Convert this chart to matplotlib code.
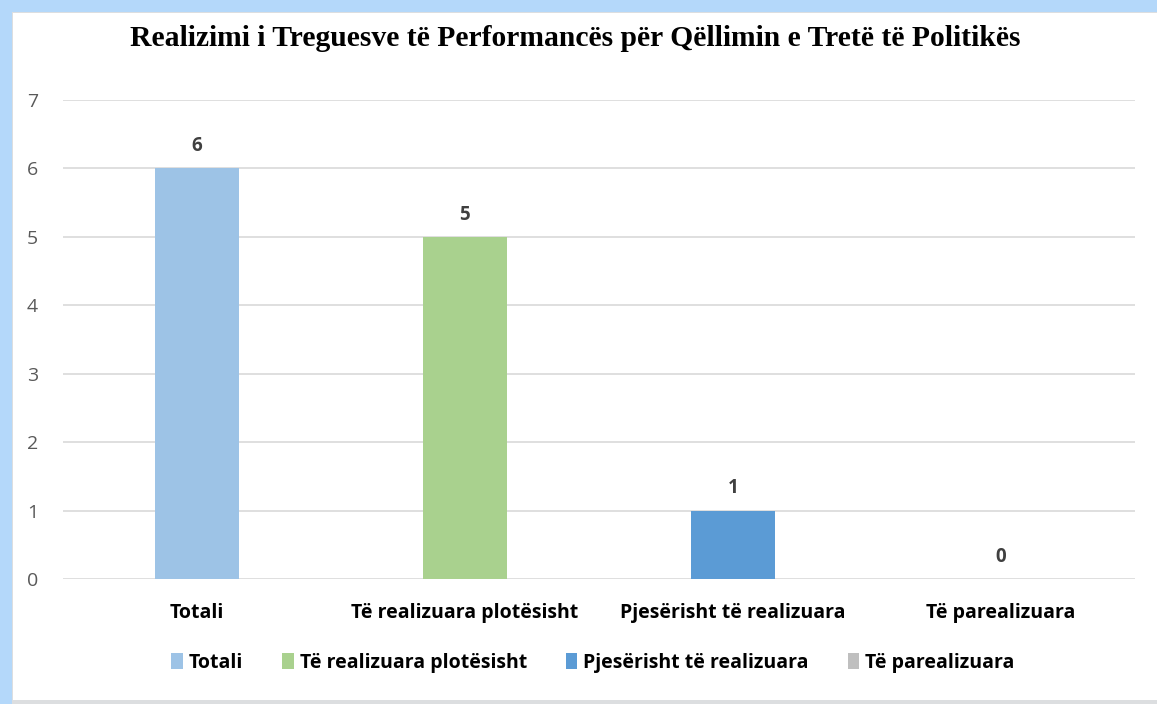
import matplotlib.pyplot as plt
from matplotlib.patches import Rectangle

categories = ['Totali', 'Të realizuara plotësisht', 'Pjesërisht të realizuara', 'Të parealizuara']
values = [6, 5, 1, 0]
colors = ['#9dc3e6', '#a9d18e', '#5b9bd5', '#bfbfbf']
title = 'Realizimi i Treguesve të Performancës për Qëllimin e Tretë të Politikës'


def main():
    fig = plt.figure(figsize=(11.57, 7.04), dpi=100)
    W, H = 1157, 704

    # blue frame on left/top, grey line at bottom
    fig.add_artist(Rectangle((0, 0), 1, 1, transform=fig.transFigure,
                             facecolor='#b4d8fa', edgecolor='none', zorder=-10))
    fig.add_artist(Rectangle((12 / W, 0), 1 - 12 / W, 1 - 12 / H, transform=fig.transFigure,
                             facecolor='#dcdee0', edgecolor='none', zorder=-9))
    fig.add_artist(Rectangle((13 / W, 4 / H), 1 - 13 / W, 1 - 17 / H, transform=fig.transFigure,
                             facecolor='white', edgecolor='none', zorder=-8))

    ax = fig.add_axes([63 / W, 1 - 579 / H, (1135 - 63) / W, (579 - 100) / H])
    ax.set_facecolor('none')
    x = range(len(categories))
    bars = ax.bar(x, values, width=0.313, color=colors, zorder=3)
    for xi, v in zip(x, values):
        ax.text(xi, v + 0.18, str(v), ha='center', va='bottom', fontsize=13.5,
                fontweight='bold', color='#404040', family='Open Sans')

    ax.set_xlim(-0.5, 3.5)
    ax.set_ylim(0, 7)
    ax.set_yticks(range(8))
    ax.yaxis.grid(True, color='#d9d9d9', linewidth=1.2, zorder=0)
    ax.set_axisbelow(True)
    for s in ax.spines.values():
        s.set_visible(False)
    ax.tick_params(axis='y', length=0, pad=18, labelsize=14, labelcolor='#595959')
    ax.tick_params(axis='x', length=0, pad=17)
    ax.set_xticks(list(x))
    ax.set_xticklabels(categories, fontsize=14, fontweight='bold', family='Open Sans')
    for lab in ax.get_yticklabels():
        lab.set_family('Open Sans')

    fig.text(575 / W, 1 - 38 / H, title, ha='center', va='center', fontsize=21.3,
             fontweight='bold', family='Liberation Serif')

    fig.legend(bars, categories, loc='center', bbox_to_anchor=(593 / W, 1 - 663 / H),
               ncol=4, frameon=False, handlelength=0.6, handleheight=0.9,
               handletextpad=0.3, columnspacing=2.0,
               prop={'family': 'Open Sans', 'weight': 'bold', 'size': 14})

    fig.savefig('out.png', dpi=100)


if __name__ == '__main__':
    main()
